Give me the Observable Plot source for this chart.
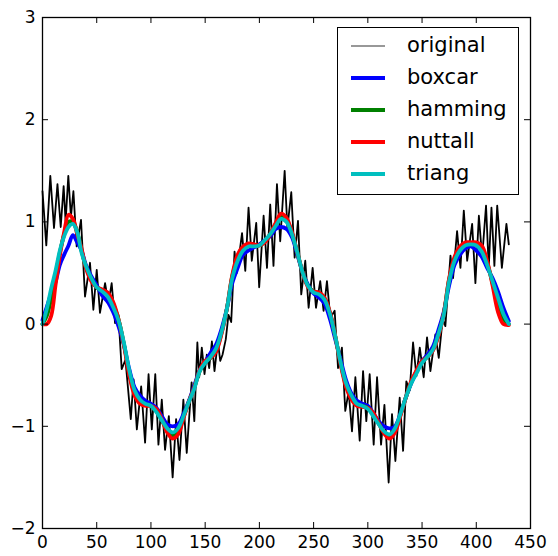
<!DOCTYPE html>
<html><head><meta charset="utf-8">
<script src="https://cdn.jsdelivr.net/npm/d3@7"></script>
<script src="https://cdn.jsdelivr.net/npm/@observablehq/plot@0.6"></script>
<style>
body{margin:0;background:#fff;}
#wrap{position:relative;width:558px;height:556px;font-family:"DejaVu Sans",sans-serif;}
#legend{position:absolute;left:337px;top:27px;width:182px;height:168px;border:1.3px solid #000;background:#fff;box-sizing:border-box;}
.row{position:absolute;left:0;height:0;}
.row svg{position:absolute;left:12px;top:-5px;}
.row span{position:absolute;left:69px;top:-13px;font-size:21px;line-height:24px;white-space:nowrap;color:#000;}
</style></head>
<body><div id="wrap"></div>
<script>
const xTicks = [0, 50, 100, 150, 200, 250, 300, 350, 400, 450];
const yTicks = [-2, -1, 0, 1, 2, 3];

// sample positions of the smoothed curves
const smoothX = [0,4,8,12,16,20,24,28,32,36,40,45,50,55,60,65,70,75,80,85,90,95,100,105,110,115,120,125,130,135,140,145,150,155,160,165,170,175,180,185,190,195,200,205,210,215,220,225,230,235,240,245,250,255,260,265,270,275,280,285,290,295,300,305,310,315,320,325,330,335,340,345,350,355,360,365,370,375,380,385,390,395,400,405,410,415,420,425,430];

const boxcar = [0.04,0.17,0.3,0.41,0.58,0.68,0.77,0.87,0.8,0.72,0.58,0.47,0.38,0.28,0.22,0.12,-0.02,-0.2,-0.44,-0.62,-0.7,-0.75,-0.78,-0.82,-0.9,-0.98,-1.0,-0.98,-0.88,-0.75,-0.6,-0.45,-0.37,-0.28,-0.2,-0.05,0.15,0.4,0.55,0.68,0.72,0.75,0.78,0.82,0.86,0.93,0.95,0.93,0.85,0.68,0.5,0.38,0.3,0.26,0.2,0.05,-0.15,-0.35,-0.55,-0.68,-0.75,-0.78,-0.8,-0.87,-0.95,-1.0,-1.02,-1.0,-0.88,-0.72,-0.58,-0.46,-0.36,-0.3,-0.22,-0.06,0.12,0.38,0.58,0.68,0.74,0.76,0.72,0.66,0.55,0.45,0.32,0.16,0.03];

const hamming = [0.0,0.08,0.25,0.47,0.7,0.88,1.0,1.0,0.9,0.72,0.56,0.44,0.36,0.33,0.29,0.2,0.05,-0.19,-0.48,-0.68,-0.76,-0.79,-0.8,-0.85,-0.94,-1.04,-1.09,-1.05,-0.91,-0.76,-0.62,-0.46,-0.37,-0.33,-0.26,-0.09,0.15,0.47,0.65,0.74,0.78,0.77,0.77,0.81,0.88,0.98,1.06,1.02,0.89,0.7,0.5,0.37,0.32,0.3,0.25,0.11,-0.12,-0.39,-0.6,-0.72,-0.79,-0.8,-0.82,-0.88,-0.97,-1.06,-1.1,-1.04,-0.89,-0.72,-0.57,-0.46,-0.37,-0.32,-0.25,-0.11,0.1,0.44,0.64,0.74,0.78,0.79,0.78,0.74,0.6,0.4,0.19,0.05,0.0];

const nuttall = [0.0,0.0,0.08,0.38,0.67,0.9,1.07,1.03,0.88,0.74,0.55,0.42,0.36,0.34,0.31,0.22,0.05,-0.2,-0.5,-0.7,-0.78,-0.8,-0.8,-0.83,-0.93,-1.06,-1.12,-1.08,-0.92,-0.76,-0.62,-0.45,-0.36,-0.33,-0.27,-0.1,0.15,0.48,0.68,0.76,0.79,0.78,0.77,0.8,0.88,0.99,1.08,1.04,0.9,0.7,0.5,0.36,0.32,0.31,0.26,0.12,-0.12,-0.4,-0.62,-0.74,-0.8,-0.81,-0.82,-0.87,-0.97,-1.07,-1.12,-1.06,-0.9,-0.72,-0.56,-0.45,-0.36,-0.32,-0.26,-0.12,0.1,0.45,0.66,0.76,0.8,0.8,0.8,0.77,0.62,0.38,0.12,0.0,-0.01];

const triang = [0.0,0.15,0.35,0.52,0.72,0.86,0.95,0.98,0.9,0.7,0.57,0.45,0.36,0.32,0.27,0.17,0.04,-0.18,-0.45,-0.65,-0.74,-0.78,-0.8,-0.86,-0.94,-1.02,-1.06,-1.02,-0.9,-0.76,-0.63,-0.46,-0.38,-0.32,-0.24,-0.08,0.15,0.45,0.62,0.72,0.76,0.76,0.77,0.82,0.88,0.96,1.03,1.0,0.88,0.7,0.5,0.37,0.31,0.29,0.24,0.1,-0.12,-0.38,-0.58,-0.7,-0.78,-0.8,-0.83,-0.9,-0.98,-1.05,-1.08,-1.02,-0.88,-0.72,-0.58,-0.48,-0.38,-0.32,-0.25,-0.1,0.09,0.42,0.62,0.72,0.77,0.78,0.77,0.71,0.58,0.42,0.26,0.1,0.0];

// original noisy signal (turning points)
const origX = [0,3.5,7.2,10.6,13.8,16.8,19.5,21.3,23.8,26.2,28.5,31.5,35.5,39.2,43.8,46.9,50,53,57.7,60.8,63.8,66.9,70,73,76.5,81.4,84,87,91,94.6,97.8,100.8,104,106.9,110,113,116.5,120,123.2,126.3,129.9,133,137.5,140,142.8,144.5,146.9,149.4,151.5,153.7,156.2,158.6,161.7,163.9,166,169,171.5,174,177.1,179.2,184,187,190,193,197.1,199.8,203.9,207,210,213,216.2,219.2,223.3,225.8,229.4,232.5,235.6,238.6,242.3,245.4,249.1,252.2,256.1,259.2,262.3,265.4,269.4,272.5,276.1,279.2,282.3,285.4,288.5,292.5,295.6,298.6,301.7,305.4,308.5,312.2,315.3,319.2,322.3,325.4,329.4,332.5,335.5,338.6,341.7,344.8,347.9,351.5,354.6,357.7,362.3,365.4,369,371.5,376.2,378.6,382.3,385.4,388.5,391.6,396.2,399.2,402.4,405.4,409,411.5,414,416.7,419.3,423.6,427.8,430];
const origY = [1.3,0.77,1.45,0.94,1.37,0.95,1.35,1.0,1.45,1.05,1.3,0.76,1.02,0.27,0.6,0.14,0.53,0.11,0.4,0.2,0.4,0.01,0.09,-0.44,-0.35,-0.93,-0.54,-1.03,-0.61,-1.16,-0.49,-1.03,-0.49,-1.18,-0.74,-1.23,-0.9,-1.5,-0.93,-1.33,-0.74,-1.26,-0.57,-0.95,-0.18,-0.52,-0.23,-0.49,-0.3,-0.43,-0.17,-0.46,-0.17,-0.36,-0.3,-0.15,0.09,0.02,0.71,0.5,0.89,0.52,1.14,0.62,0.99,0.36,1.06,0.55,1.17,0.57,1.37,0.81,1.5,0.94,1.29,0.65,1.01,0.29,0.62,0.16,0.55,0.16,0.42,0.13,0.42,0.06,0.13,-0.43,-0.23,-0.85,-0.66,-1.05,-0.52,-1.14,-0.46,-0.95,-0.49,-1.18,-0.52,-1.18,-0.79,-1.55,-0.88,-1.34,-0.72,-1.24,-0.56,-0.65,-0.18,-0.51,-0.23,-0.52,-0.13,-0.46,-0.1,-0.33,0.05,-0.02,0.67,0.45,0.91,0.55,1.11,0.62,0.98,0.4,1.06,0.65,1.16,0.55,1.14,0.57,1.16,0.55,0.98,0.78];

const names = ["original", "boxcar", "hamming", "nuttall", "triang"];
const colors = ["#000000", "#0000ff", "#008000", "#ff0000", "#00bfbf"];
const widths = [1.8, 3.8, 3.8, 3.8, 3.8];

const minusFmt = d => (d < 0 ? "\u2212" + Math.abs(d) : String(d));

const orig = origX.map((x, i) => ({x, y: origY[i]}));
const smoothSeries = [boxcar, hamming, nuttall, triang].map(arr => smoothX.map((x, i) => ({x, y: arr[i]})));

const W = 558, H = 556, mL = 42, mR = 28, mT = 17, mB = 28;
const tick = 6;

const chart = Plot.plot({
  width: W, height: H,
  marginLeft: mL, marginRight: mR, marginTop: mT, marginBottom: mB,
  style: {fontFamily: "DejaVu Sans", fontSize: "17px", background: "white", color: "black"},
  x: {domain: [0, 450], ticks: xTicks, tickSize: 0, tickPadding: 7, tickFormat: minusFmt, label: null},
  y: {domain: [-2, 3], ticks: yTicks, tickSize: 0, tickPadding: 7, tickFormat: minusFmt, label: null},
  marks: [
    Plot.line(orig, {x: "x", y: "y", stroke: colors[0], strokeWidth: widths[0]}),
    ...smoothSeries.map((s, k) => Plot.line(s, {x: "x", y: "y", stroke: colors[k + 1], strokeWidth: widths[k + 1], curve: "catmull-rom"})),
    Plot.frame({stroke: "black", strokeWidth: 1.3}),
    Plot.tickX(xTicks, {x: d => d, insetTop: H - mT - mB - tick, stroke: "black"}),
    Plot.tickX(xTicks, {x: d => d, insetBottom: H - mT - mB - tick, stroke: "black"}),
    Plot.tickY(yTicks, {y: d => d, insetRight: W - mL - mR - tick, stroke: "black"}),
    Plot.tickY(yTicks, {y: d => d, insetLeft: W - mL - mR - tick, stroke: "black"})
  ]
});

const wrap = document.getElementById("wrap");
wrap.appendChild(chart);

// legend
const legend = document.createElement("div");
legend.id = "legend";
const rowTops = [18, 50, 82, 114, 146];
names.forEach((n, i) => {
  const row = document.createElement("div");
  row.className = "row";
  row.style.top = rowTops[i] + "px";
  const sw = i === 0 ? 1.2 : 3.8;
  row.innerHTML = `<svg width="36" height="10"><line x1="1" x2="35" y1="5" y2="5" stroke="${colors[i]}" stroke-width="${sw}" opacity="${i===0?0.8:1}"/></svg><span>${n}</span>`;
  legend.appendChild(row);
});
wrap.appendChild(legend);
</script>
</body></html>
